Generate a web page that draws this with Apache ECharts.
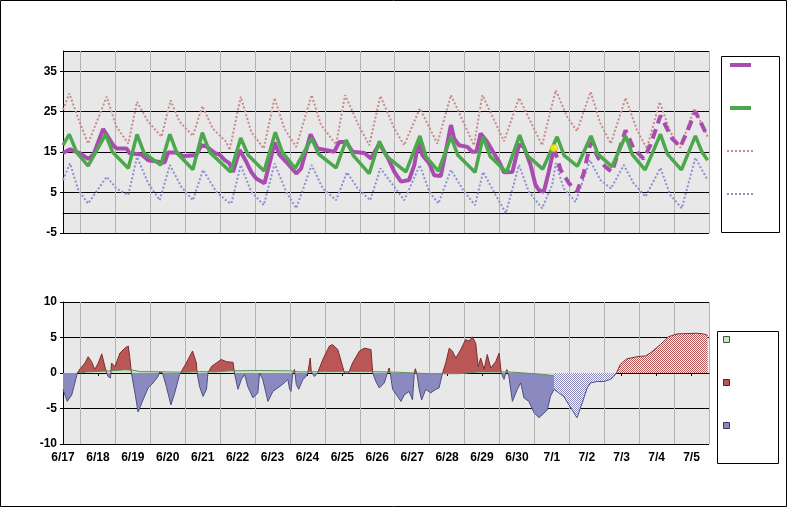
<!DOCTYPE html>
<html>
<head>
<meta charset="utf-8">
<script src="https://cdn.jsdelivr.net/npm/echarts@6/dist/echarts.min.js"></script>
<style>
  html, body { margin: 0; padding: 0; background: #fff; }
  #chart { width: 787px; height: 507px; }
</style>
</head>
<body>
<div id="chart"></div>
<script>
// x values are days since 6/17 00:00
var dayLabels = ["6/17", "6/18", "6/19", "6/20", "6/21", "6/22", "6/23", "6/24", "6/25", "6/26",
  "6/27", "6/28", "6/29", "6/30", "7/1", "7/2", "7/3", "7/4", "7/5"];
var topTicks = [-5, 5, 15, 25, 35];
var bottomTicks = [-10, -5, 0, 5, 10];

// observed temperature (purple, solid)
var observed = [
  [0, 14.8], [0.2, 15.7], [0.49, 14.7], [0.72, 13.3], [0.87, 14.3], [1.15, 20.7], [1.44, 16.7],
  [1.53, 15.9], [1.82, 15.9], [1.91, 14.7], [2.25, 14.4], [2.44, 13.0], [2.91, 12.4], [3.01, 14.9],
  [3.25, 14.9], [3.44, 14.0], [3.82, 14.3], [3.96, 16.7], [4.11, 16.4], [4.34, 14.8], [4.49, 14.3],
  [4.63, 13.0], [4.77, 12.2], [4.87, 10.1], [5.06, 15.5], [5.25, 12.6], [5.39, 10.1], [5.53, 8.5],
  [5.77, 7.3], [5.96, 13.8], [6.06, 17.4], [6.2, 14.3], [6.39, 12.6], [6.68, 9.7], [6.82, 11.0],
  [7.09, 19.4], [7.29, 15.9], [7.77, 15.1], [7.91, 17.5], [8.11, 17.5], [8.29, 15.1], [8.63, 14.8],
  [8.82, 13.4], [9.06, 17.1], [9.29, 13.8], [9.49, 10.1], [9.68, 7.7], [9.91, 8.1], [10.06, 11.8],
  [10.18, 17.4], [10.29, 14.3], [10.49, 12.2], [10.63, 9.3], [10.82, 9.1], [10.96, 15.1],
  [11.11, 21.7], [11.2, 18.4], [11.34, 16.7], [11.58, 16.3], [11.72, 15.1], [11.84, 15.1],
  [11.96, 19.6], [12.15, 17.5], [12.34, 14.7], [12.49, 12.6], [12.63, 10.0], [12.87, 10.1],
  [13.06, 16.9], [13.2, 16.3], [13.39, 11.8], [13.53, 6.9], [13.63, 5.6], [13.77, 5.2],
  [13.91, 10.1], [14.06, 16.0]
];
// forecast temperature (purple, dashed)
var forecast = [
  [14.06, 16.0], [14.25, 10.6], [14.49, 7.3], [14.72, 5.2], [14.91, 9.7], [15.11, 17.5],
  [15.34, 13.4], [15.53, 11.4], [15.72, 10.1], [15.91, 15.1], [16.11, 20.4], [16.34, 15.9],
  [16.63, 13.3], [16.82, 16.7], [17.11, 24.0], [17.44, 18.4], [17.68, 16.3], [17.87, 20.0],
  [18.11, 25.0], [18.3, 21.7], [18.46, 18.8]
];
var nowPoint = [[14.06, 16.0]];
// normal (green)
var normal = [
  [0, 16.7], [0.18, 19.4], [0.4, 14.8], [0.72, 11.6], [1.22, 19.4], [1.42, 15.0], [1.87, 11.0],
  [2.12, 19.4], [2.32, 14.8], [2.8, 11.8], [3.06, 19.4], [3.26, 14.8], [3.72, 10.7], [3.99, 19.8],
  [4.2, 15.0], [4.8, 10.1], [5.09, 18.5], [5.3, 14.3], [5.76, 10.3], [6.08, 19.9], [6.28, 15.0],
  [6.65, 11.0], [7.12, 18.4], [7.32, 14.5], [7.82, 11.1], [8.11, 18.0], [8.31, 14.2], [8.77, 9.7],
  [9.06, 17.7], [9.26, 14.0], [9.82, 10.1], [10.22, 19.0], [10.4, 13.8], [10.75, 10.3],
  [11.11, 18.8], [11.31, 14.2], [11.8, 10.0], [12.03, 18.8], [12.23, 14.0], [12.7, 10.0],
  [13.08, 19.2], [13.28, 14.3], [13.74, 10.8], [14.15, 18.8], [14.35, 14.2], [14.73, 11.5],
  [15.12, 19.0], [15.32, 14.5], [15.72, 11.4], [16.11, 19.0], [16.31, 14.3], [16.67, 10.6],
  [17.11, 19.4], [17.31, 14.5], [17.71, 10.6], [18.11, 19.0], [18.3, 15.0], [18.46, 13.0]
];
// record high (pink dotted)
var recHigh = [
  [0, 25.5], [0.18, 29.5], [0.49, 22.1], [0.72, 17.1], [1.25, 28.7], [1.53, 21.3], [1.87, 17.1],
  [2.12, 27.4], [2.44, 22.5], [2.82, 18.8], [3.08, 27.8], [3.34, 22.5], [3.72, 19.0], [3.99, 26.4],
  [4.29, 20.8], [4.68, 17.5], [4.77, 15.5], [5.09, 28.7], [5.39, 20.0], [5.75, 15.9], [6.06, 28.4],
  [6.34, 20.8], [6.68, 16.3], [7.12, 29.1], [7.39, 21.7], [7.82, 16.9], [8.08, 29.1], [8.44, 22.1],
  [8.77, 16.7], [9.09, 28.9], [9.49, 20.8], [9.77, 16.7], [10.22, 25.8], [10.72, 17.1],
  [11.11, 29.1], [11.77, 16.7], [12.01, 29.1], [12.63, 17.7], [13.06, 28.4], [13.72, 16.7],
  [14.11, 30.3], [14.44, 23.7], [14.72, 20.2], [15.11, 29.9], [15.39, 22.1], [15.69, 17.1],
  [16.11, 28.4], [16.44, 20.4], [16.72, 15.9], [17.09, 27.4], [17.39, 20.0], [17.68, 16.1],
  [18.08, 25.8], [18.46, 18.8]
];
// record low (blue dotted)
var recLow = [
  [0, 8.1], [0.2, 12.2], [0.44, 5.6], [0.72, 2.3], [1.25, 8.9], [1.53, 6.0], [1.87, 4.4],
  [2.12, 13.8], [2.44, 7.3], [2.77, 3.1], [3.06, 11.8], [3.39, 6.4], [3.72, 3.1], [4.01, 10.6],
  [4.39, 5.2], [4.72, 2.7], [4.82, 2.3], [5.09, 11.8], [5.39, 5.2], [5.75, 1.9], [6.06, 12.2],
  [6.39, 5.2], [6.68, 1.1], [7.12, 11.8], [7.44, 6.0], [7.82, 3.1], [8.13, 10.0], [8.44, 6.0],
  [8.8, 3.1], [9.09, 11.0], [9.49, 6.4], [9.77, 3.1], [10.22, 11.8], [10.49, 5.2], [10.75, 2.3],
  [11.11, 10.6], [11.49, 5.2], [11.8, 1.9], [12.03, 10.1], [12.39, 4.4], [12.68, -0.1],
  [13.06, 11.8], [13.34, 5.2], [13.72, 1.1], [14.01, 6.9], [14.11, 12.3], [14.34, 6.0],
  [14.68, 2.7], [15.09, 13.0], [15.39, 8.1], [15.69, 6.0], [16.06, 11.8], [16.34, 7.3],
  [16.68, 4.0], [17.11, 11.1], [17.39, 4.4], [17.72, 1.1], [18.11, 13.6], [18.46, 8.1]
];

// departure from normal, observed
var obsDiff = [
  [0, -2.3], [0.12, -4.0], [0.25, -3.1], [0.34, -1.4], [0.41, 0], [0.49, 0.6], [0.63, 1.4],
  [0.72, 2.3], [0.82, 1.6], [0.91, 0.5], [1.01, 1.4], [1.11, 2.7], [1.2, 0.9], [1.25, 0],
  [1.29, -0.5], [1.36, -0.7], [1.39, 1.4], [1.49, 0.9], [1.63, 2.8], [1.77, 3.5], [1.87, 3.8],
  [1.91, 2.3], [1.96, 0], [2.06, -2.8], [2.15, -5.5], [2.29, -3.8], [2.44, -2.1], [2.58, -1.4],
  [2.72, -0.5], [2.77, 0.2], [2.85, 0], [2.96, -1.9], [3.09, -4.5], [3.2, -2.8], [3.34, -0.2],
  [3.39, 0], [3.53, 1.4], [3.71, 3.1], [3.82, 1.4], [3.84, 0], [3.91, -1.9], [4.01, -3.3],
  [4.11, -2.3], [4.15, 0], [4.25, 0.9], [4.39, 1.4], [4.53, 1.9], [4.68, 1.6], [4.87, 1.5],
  [4.91, 0], [5.01, -2.3], [5.11, -0.9], [5.2, -0.2], [5.29, -1.9], [5.44, -3.5], [5.58, -2.8],
  [5.63, 0], [5.72, -0.9], [5.87, -4.0], [6.01, -2.6], [6.15, -2.1], [6.29, -1.6], [6.44, -0.9],
  [6.49, -2.3], [6.53, -2.6], [6.58, 0], [6.63, 0.5], [6.68, -1.6], [6.75, -2.3], [6.87, -0.9],
  [6.96, -0.5], [7.01, 0], [7.08, 2.1], [7.11, 0.2], [7.2, -0.5], [7.29, 0], [7.44, 1.9],
  [7.63, 3.8], [7.72, 4.0], [7.87, 3.3], [8.01, 0.9], [8.06, 0], [8.11, -0.2], [8.18, 0],
  [8.29, 1.4], [8.49, 3.1], [8.63, 3.5], [8.82, 3.3], [8.87, 0], [8.96, -1.2], [9.06, -2.1],
  [9.2, -1.4], [9.29, 0], [9.34, 0.7], [9.37, 0], [9.44, -2.3], [9.58, -3.3], [9.68, -4.0],
  [9.77, -3.1], [9.91, -2.6], [10.01, -3.8], [10.06, 0], [10.09, 0.6], [10.13, 0], [10.2, -2.3],
  [10.27, -3.8], [10.39, -2.3], [10.53, -2.8], [10.68, -2.3], [10.77, -2.1], [10.87, 0],
  [10.96, 1.4], [11.06, 3.5], [11.15, 3.1], [11.25, 2.1], [11.39, 3.3], [11.53, 4.7], [11.63, 4.5],
  [11.72, 5.1], [11.82, 4.2], [11.89, 0.9], [11.96, 2.1], [12.06, 0.5], [12.15, 2.6], [12.25, 0.7],
  [12.39, 1.6], [12.49, 2.8], [12.55, 0], [12.63, -0.9], [12.71, 0.5], [12.77, -0.5], [12.87, -4.0],
  [13.01, -2.3], [13.11, -1.4], [13.2, -3.5], [13.34, -4.0], [13.49, -5.6], [13.63, -6.3],
  [13.72, -5.9], [13.87, -5.2], [13.96, -3.3], [14.06, -2.3]
];
// departure from normal, forecast (below / above zero)
var fcBelow = [
  [14.06, -2.3], [14.34, -3.3], [14.63, -5.6], [14.72, -6.3], [14.87, -4.2], [15.01, -2.1],
  [15.11, -1.4], [15.29, -1.2], [15.49, -1.2], [15.68, -0.9], [15.77, -0.5], [15.85, 0]
];
var fcAbove = [
  [15.85, 0], [15.96, 1.2], [16.15, 2.0], [16.44, 2.3], [16.68, 2.4], [16.82, 2.8], [17.11, 4.0],
  [17.34, 5.1], [17.58, 5.5], [18.15, 5.6], [18.34, 5.5], [18.46, 5.3]
];
// small green band near zero
var greenDiff = [
  [0.49, 0], [0.68, 0.15], [1.34, 0.3], [1.77, 0.45], [2.0, 0.4], [2.2, 0.2], [3.0, 0.15],
  [3.49, 0.1], [3.91, 0.2], [4.34, 0.15], [4.77, 0.3], [5.63, 0.35], [6.49, 0.3], [6.77, 0.15],
  [7.91, 0.2], [8.77, 0.2], [9.63, 0.1], [10.49, -0.1], [11.34, -0.1], [11.91, 0.15],
  [12.77, 0.15], [13.34, -0.05], [13.77, -0.2], [14.06, -0.4]
];

var PURPLE = "#A94CB0";
var GREEN = "#4DA84D";
var PINK = "#C98A8A";
var LBLUE = "#8E8ED2";
var RED = "#BA5656";
var BLUE = "#8A8AC0";
var DARKRED = "#7A2E2E";
var DARKBLUE = "#4E4E80";

// bottom plot spans y 302..444, zero sits at its middle
function splitColor(above, below) {
  return {
    type: "linear", x: 0, y: 302, x2: 0, y2: 444, global: true,
    colorStops: [
      { offset: 0, color: above }, { offset: 0.5, color: above },
      { offset: 0.5, color: below }, { offset: 1, color: below }
    ]
  };
}

function hatch(color) {
  var cv = document.createElement("canvas");
  cv.width = 2;
  cv.height = 2;
  var g = cv.getContext("2d");
  g.fillStyle = "#fff";
  g.fillRect(0, 0, 2, 2);
  g.fillStyle = color;
  g.fillRect(0, 0, 1, 1);
  g.fillRect(1, 1, 1, 1);
  return cv;
}

var xMax = 18.5;
var yFont = { fontFamily: "Liberation Sans, Arial, sans-serif", fontWeight: "bold", fontSize: 12, color: "#000" };

function mainX(gridIndex, withLabels) {
  return {
    type: "value",
    gridIndex: gridIndex,
    position: "bottom",
    min: 0,
    max: xMax,
    interval: 1,
    axisLine: { show: true, lineStyle: { color: "#000", width: 1 } },
    axisTick: { show: withLabels, length: 3, lineStyle: { color: "#000" } },
    axisLabel: {
      show: withLabels,
      showMaxLabel: false,
      margin: 8,
      fontFamily: "Liberation Sans Narrow, Liberation Sans, Arial, sans-serif",
      fontWeight: "bold",
      fontSize: 12,
      color: "#000",
      formatter: function (v) {
        return dayLabels[Math.round(v)] || "";
      }
    },
    splitLine: { show: false }
  };
}
// noon grid lines: inverse helper axis so its ticks start from the right edge (7/5 12:00)
function noonX(gridIndex) {
  return {
    type: "value",
    gridIndex: gridIndex,
    position: "top",
    inverse: true,
    min: 0,
    max: xMax,
    interval: 1,
    axisLine: { show: false },
    axisTick: { show: false },
    axisLabel: { show: false },
    splitLine: { show: true, lineStyle: { color: "#B4B4B4", width: 1 } }
  };
}

function line(data, color, width, type) {
  return {
    type: "line",
    xAxisIndex: 0,
    yAxisIndex: 0,
    data: data,
    symbol: "none",
    lineStyle: { color: color, width: width, type: type, cap: "butt" }
  };
}

function diff(data, lineColor, fill) {
  return {
    type: "line",
    xAxisIndex: 2,
    yAxisIndex: 1,
    data: data,
    symbol: "none",
    lineStyle: { width: 1, color: lineColor },
    areaStyle: { opacity: 1, color: fill }
  };
}

var chart = echarts.init(document.getElementById("chart"));
chart.setOption({
  backgroundColor: "#fff",
  animation: false,
  grid: [
    { left: 63, top: 51, width: 646, height: 182, show: true, backgroundColor: "#E8E8E8", borderWidth: 0 },
    { left: 63, top: 302, width: 646, height: 142, show: true, backgroundColor: "#E8E8E8", borderWidth: 0 }
  ],
  xAxis: [mainX(0, false), noonX(0), mainX(1, true), noonX(1)],
  yAxis: [
    {
      type: "value",
      gridIndex: 0,
      min: topTicks[0],
      max: 40,
      interval: 10,
      axisLine: { show: true, lineStyle: { color: "#000" } },
      axisTick: { show: true, length: 3, lineStyle: { color: "#000" } },
      axisLabel: Object.assign({ margin: 6, showMaxLabel: false }, yFont),
      splitLine: { show: true, lineStyle: { color: "#000", width: 1 } }
    },
    {
      type: "value",
      gridIndex: 1,
      min: bottomTicks[0],
      max: bottomTicks[bottomTicks.length - 1],
      interval: 5,
      axisLine: { show: true, lineStyle: { color: "#000" } },
      axisTick: { show: true, length: 3, lineStyle: { color: "#000" } },
      axisLabel: Object.assign({ margin: 6 }, yFont),
      splitLine: { show: true, lineStyle: { color: "#000", width: 1 } }
    }
  ],
  series: [
    line(recHigh, PINK, 2, [2, 2]),
    line(recLow, LBLUE, 2, [2, 2]),
    line(observed, PURPLE, 4, "solid"),
    line(forecast, PURPLE, 4, [10, 6]),
    line(normal, GREEN, 3.5, "solid"),
    {
      type: "scatter",
      xAxisIndex: 0,
      yAxisIndex: 0,
      data: nowPoint,
      symbolSize: 7,
      z: 5,
      itemStyle: { color: "#FFFF00", borderColor: "#E0C000", borderWidth: 1 }
    },
    diff(obsDiff, splitColor(DARKRED, DARKBLUE), splitColor(RED, BLUE)),
    diff(fcBelow, DARKBLUE, { image: hatch(BLUE), repeat: "repeat" }),
    diff(fcAbove, DARKRED, { image: hatch(RED), repeat: "repeat" }),
    diff(greenDiff, "#5E8A5E", "#CBE5CB")
  ],
  graphic: [
    { type: "rect", shape: { x: 0.5, y: 0.5, width: 786, height: 506 }, style: { fill: null, stroke: "#000", lineWidth: 1 }, silent: true },
    // top legend
    { type: "rect", shape: { x: 721.5, y: 56.5, width: 58, height: 176 }, style: { fill: "#fff", stroke: "#000", lineWidth: 1 } },
    { type: "line", shape: { x1: 730, y1: 65, x2: 751, y2: 65 }, style: { stroke: PURPLE, lineWidth: 4 } },
    { type: "line", shape: { x1: 730, y1: 108, x2: 751, y2: 108 }, style: { stroke: GREEN, lineWidth: 4 } },
    { type: "line", shape: { x1: 727, y1: 151, x2: 755, y2: 151 }, style: { stroke: PINK, lineWidth: 2, lineDash: [2, 2] } },
    { type: "line", shape: { x1: 727, y1: 194, x2: 755, y2: 194 }, style: { stroke: LBLUE, lineWidth: 2, lineDash: [2, 2] } },
    // bottom legend
    { type: "rect", shape: { x: 717.5, y: 331.5, width: 61, height: 132 }, style: { fill: "#fff", stroke: "#000", lineWidth: 1 } },
    { type: "rect", shape: { x: 723.5, y: 336.5, width: 6, height: 6 }, style: { fill: "#CBE5CB", stroke: "#3C5A3C", lineWidth: 1 } },
    { type: "rect", shape: { x: 723.5, y: 379.5, width: 6, height: 6 }, style: { fill: RED, stroke: "#5A2020", lineWidth: 1 } },
    { type: "rect", shape: { x: 723.5, y: 422.5, width: 6, height: 6 }, style: { fill: BLUE, stroke: "#3A3A60", lineWidth: 1 } }
  ]
});
</script>
</body>
</html>
